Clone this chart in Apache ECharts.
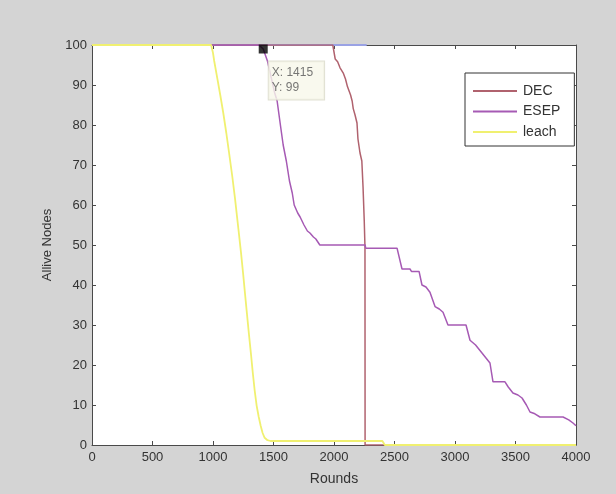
<!DOCTYPE html>
<html>
<head>
<meta charset="utf-8">
<style>
  html, body { margin: 0; padding: 0; background: #d4d4d4; }
  #chart { width: 616px; height: 494px; }
</style>
<script src="https://cdn.jsdelivr.net/npm/echarts@6/dist/echarts.min.js"></script>
</head>
<body>
<div id="chart"></div>
<script>
// Alive nodes per round for the three protocols
const decRounds  = [0, 1990, 2010, 2030, 2050, 2078, 2095, 2111, 2137, 2150, 2159, 2174, 2190, 2198, 2215, 2230, 2240, 2250, 2256, 2257, 4000];
const decAlive   = [100, 100, 96.5, 95.8, 94.3, 92.9, 91.5, 89.6, 87.5, 86, 84.1, 82.5, 80.5, 76.5, 73, 71, 64.5, 56, 49.5, 0, 0];

const esepRounds = [0, 1380, 1415, 1450, 1480, 1510, 1530, 1557, 1580, 1606, 1632, 1655, 1671, 1700, 1720, 1752, 1780, 1801, 1830, 1850, 1883,
                    2257, 2262, 2521, 2562, 2628, 2640, 2703, 2727, 2760, 2793, 2835, 2870, 2901, 2942, 3091, 3124, 3170, 3223, 3289, 3314,
                    3413, 3440, 3479, 3520, 3554, 3590, 3620, 3660, 3702, 3893, 3940, 3975, 4000];
const esepAlive  = [100, 100, 99, 96, 92, 88, 86, 80, 75, 71, 66, 63, 60, 58, 57, 55, 53.5, 53, 52, 51.5, 50,
                    50, 49.2, 49.2, 44, 44, 43.4, 43.4, 40, 39.5, 38.2, 34.6, 34, 33.2, 30, 30, 26.2, 25, 23, 20.5, 15.8,
                    15.8, 14.5, 13, 12.5, 11.75, 10, 8.25, 7.8, 7, 7, 6.3, 5.5, 4.8];

const leachRounds = [0, 985, 1000, 1010, 1036, 1060, 1085, 1110, 1133, 1160, 1182, 1210, 1231, 1250, 1264, 1280, 1296, 1313, 1329, 1345,
                     1361, 1378, 1394, 1410, 1427, 1450, 1475, 2400, 2420, 4000];
const leachAlive  = [100, 100, 98, 96, 91.6, 87.5, 83, 78, 73, 67, 61.6, 54, 48.2, 42.5, 38, 33, 28, 23, 18, 13.5,
                     9.8, 7, 4.8, 3, 1.8, 1.2, 1, 1, 0, 0];

// Faint trace running along the top edge
const topRounds = [0, 2270];
const topAlive  = [100, 100];

// Data cursor
const cursorRound = 1415;
const cursorAlive = 99;

const seriesNames = ['DEC', 'ESEP', 'leach'];

const zip = (xs, ys) => xs.map((x, i) => [x, ys[i]]);

const chart = echarts.init(document.getElementById('chart'), null, { renderer: 'canvas' });

const font = 'Liberation Sans, Arial, Helvetica, sans-serif';
const axisColor = '#4a4a4a';
const textColor = '#333333';
const plain = v => String(v);

const baseX = {
  type: 'value', min: 0, max: 4000, interval: 500,
  axisLine: { show: true, onZero: false, lineStyle: { color: axisColor, width: 1 } },
  axisTick: { show: true, inside: true, length: 4, lineStyle: { color: axisColor } },
  splitLine: { show: false }
};
const baseY = {
  type: 'value', min: 0, max: 100, interval: 10,
  axisLine: { show: true, onZero: false, lineStyle: { color: axisColor, width: 1 } },
  axisTick: { show: true, inside: true, length: 4, lineStyle: { color: axisColor } },
  splitLine: { show: false }
};

const option = {
  animation: false,
  backgroundColor: '#d4d4d4',
  grid: { left: 92, top: 45, width: 484, height: 400, show: true, backgroundColor: '#ffffff', borderWidth: 0 },
  xAxis: [
    Object.assign({}, baseX, {
      position: 'bottom',
      name: 'Rounds', nameLocation: 'middle', nameGap: 27,
      nameTextStyle: { color: textColor, fontSize: 14, fontFamily: font },
      axisLabel: { color: textColor, fontSize: 13, fontFamily: font, margin: 6, formatter: plain }
    }),
    Object.assign({}, baseX, { position: 'top', axisLabel: { show: false } })
  ],
  yAxis: [
    Object.assign({}, baseY, {
      position: 'left',
      name: 'Allive Nodes', nameLocation: 'middle', nameGap: 38,
      nameTextStyle: { color: textColor, fontSize: 13, fontFamily: font },
      axisLabel: { color: textColor, fontSize: 13, fontFamily: font, margin: 5, formatter: plain }
    }),
    Object.assign({}, baseY, { position: 'right', axisLabel: { show: false } })
  ],
  legend: {
    data: seriesNames,
    orient: 'vertical',
    left: 465, top: 73,
    padding: [11, 14, 7, 8],
    itemGap: 6.5,
    itemWidth: 44, itemHeight: 2,
    icon: 'rect',
    backgroundColor: '#ffffff',
    borderColor: '#333333', borderWidth: 1, borderRadius: 0,
    textStyle: { color: textColor, fontSize: 14, fontFamily: font, padding: [0, 0, 0, 1] }
  },
  series: [
    {
      type: 'line', data: zip(topRounds, topAlive), symbol: 'none', silent: true,
      lineStyle: { color: '#9aa2e4', width: 2 }, itemStyle: { color: '#9aa2e4' }
    },
    {
      name: 'DEC', type: 'line', data: zip(decRounds, decAlive), symbol: 'none',
      lineStyle: { color: '#b0626e', width: 1.5 }, itemStyle: { color: '#b0626e' }
    },
    {
      name: 'ESEP', type: 'line', data: zip(esepRounds, esepAlive), symbol: 'none',
      lineStyle: { color: '#a65ab4', width: 1.5 }, itemStyle: { color: '#a65ab4' }
    },
    {
      name: 'leach', type: 'line', data: zip(leachRounds, leachAlive), symbol: 'none',
      lineStyle: { color: '#f0f070', width: 1.8 }, itemStyle: { color: '#f0f070' }
    },
    {
      type: 'scatter', data: [[cursorRound, cursorAlive]], symbol: 'rect', symbolSize: 9, z: 10,
      itemStyle: { color: '#000000' },
      label: {
        show: true,
        position: [10, 17],
        formatter: () => 'X: ' + cursorRound + '\nY: ' + cursorAlive,
        color: '#555555', fontSize: 12, fontFamily: font, lineHeight: 15,
        backgroundColor: '#f8f8ea', borderColor: '#d8d8c8', borderWidth: 1,
        padding: [4, 11, 4, 3]
      }
    }
  ]
};

chart.setOption(option);
</script>
</body>
</html>
